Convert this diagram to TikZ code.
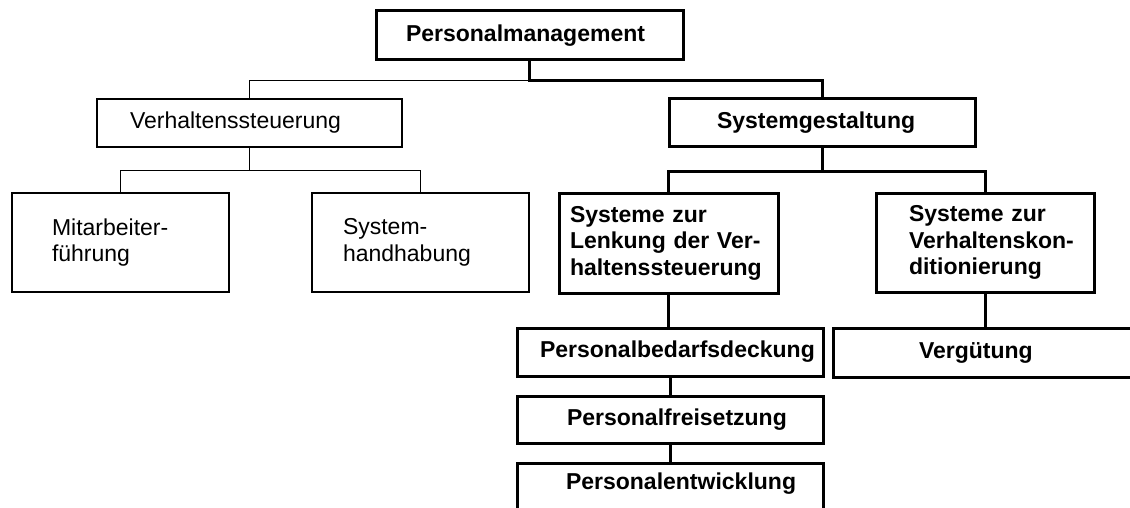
\documentclass[tikz,border=0pt]{standalone}
\usepackage{fontspec}
\setmainfont{Liberation Sans}
\newcommand{\indln}[2]{\hspace*{#1pt}\mbox{#2}}
\begin{document}
\begin{tikzpicture}[x=1pt,y=-1pt,
  basebox/.style={draw=black, inner sep=0pt, align=left, fill=white,
    font=\fontsize{23}{26.5}\selectfont},
  thinbox/.style={basebox, line width=1.2pt},
  thickbox/.style={basebox, line width=3pt, font=\fontsize{23}{26.5}\selectfont\bfseries},
  thinline/.style={line width=1.2pt},
  thickline/.style={line width=3pt}]
\clip (0,0) rectangle (1130,508);
\fill[white] (0,0) rectangle (1130,508);

% nodes
\node[thickbox, minimum width=307pt, text width=307pt, minimum height=49pt] (pm) at (529.5,35.5) {\indln{30}{Personalmanagement}};
\node[thinbox, minimum width=305pt, text width=305pt, minimum height=48pt] (vs) at (249.5,123) {\indln{33}{Verhaltenssteuerung}};
\node[thinbox, minimum width=217pt, text width=217pt, minimum height=99pt] (mf) at (120.5,242.5) {\indln{40}{Mitarbeiter-}\\\indln{40}{führung}};
\node[thinbox, minimum width=217pt, text width=217pt, minimum height=99pt] (sh) at (420.5,242.5) {\indln{31}{System-}\\\indln{31}{handhabung}};
\node[thickbox, minimum width=306pt, text width=306pt, minimum height=48pt] (sg) at (822,123) {\indln{48}{Systemgestaltung}};
\node[thickbox, minimum width=219pt, text width=219pt, minimum height=100pt] (lk) at (668.5,243) {\indln{11}{Systeme zur}\\\indln{11}{Lenkung der Ver-}\\\indln{11}{haltenssteuerung}};
\node[thickbox, minimum width=218pt, text width=218pt, minimum height=99pt] (kd) at (985,242.5) {\indln{33}{Systeme zur}\\\indln{33}{Verhaltenskon-}\\\indln{33}{ditionierung}};
\node[thickbox, minimum width=306pt, text width=306pt, minimum height=48pt] (pb) at (670,352) {\indln{23}{Personalbedarfsdeckung}};
\node[thickbox, minimum width=312pt, text width=312pt, minimum height=49pt] (vg) at (989,352.5) {\indln{86}{Vergütung}};
\node[thickbox, minimum width=306pt, text width=306pt, minimum height=47pt] (pf) at (670,419.5) {\indln{50}{Personalfreisetzung}};
\node[thickbox, minimum width=306pt, text width=306pt, minimum height=52pt, text depth=14.8pt] (pe) at (670,489) {\indln{49}{Personalentwicklung}};

% connectors
\draw[thickline] (pm.south) -- ++(0,19) coordinate (j1) -| (sg.north);
\draw[thinline] (j1) -| (vs.north);
\draw[thinline] (vs.south) -- ++(0,23) coordinate (j2);
\draw[thinline] (j2) -| (mf.north);
\draw[thinline] (j2) -| (sh.north);
\draw[thickline] (sg.south) -- ++(0,23) coordinate (j3);
\draw[thickline] (j3) -| (lk.north);
\draw[thickline] (j3) -| (kd.north);
\draw[thickline] (lk.south) -- (lk.south |- pb.north);
\draw[thickline] (pb.south) -- (pf.north);
\draw[thickline] (pf.south) -- (pe.north);
\draw[thickline] (kd.south) -- (kd.south |- vg.north);
\end{tikzpicture}
\end{document}
